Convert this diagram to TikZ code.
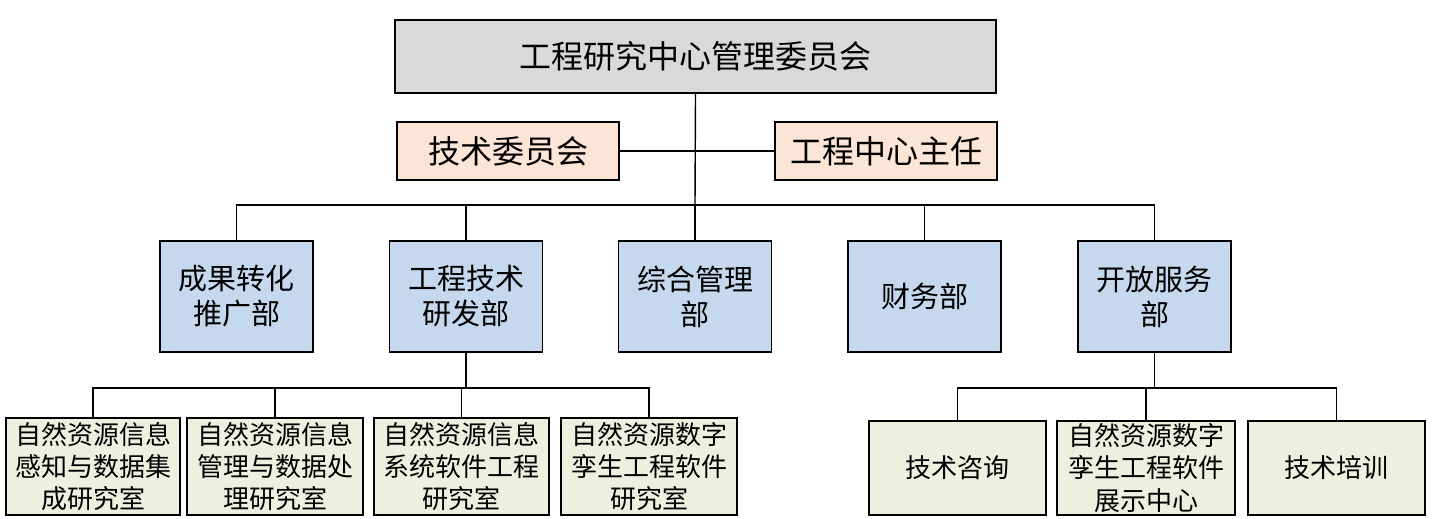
\documentclass[tikz,border=0pt]{standalone}
\usepackage{fontspec}
\setmainfont{Noto Sans CJK SC}
\definecolor{topgray}{HTML}{D9D9D9}
\definecolor{peach}{HTML}{FBE5D6}
\definecolor{deptblue}{HTML}{C6D8EE}
\definecolor{labgreen}{HTML}{EBF1DE}
\begin{document}
\begin{tikzpicture}[x=1pt,y=-1pt,
  box/.style={draw=black, line width=1.5pt, align=center, inner sep=0pt, text=black},
  topbox/.style={box, fill=topgray, minimum width=601pt, minimum height=73pt, font=\fontsize{32}{38}\selectfont},
  peachbox/.style={box, fill=peach, minimum width=222pt, minimum height=58pt, font=\fontsize{32}{38}\selectfont},
  dept/.style={box, fill=deptblue, minimum width=153pt, minimum height=111pt, font=\fontsize{29}{35}\selectfont},
  lab/.style={box, fill=labgreen, minimum height=97pt, font=\fontsize{26}{32}\selectfont},
  svc/.style={box, fill=labgreen, minimum height=94pt, font=\fontsize{26}{32.5}\selectfont},
  conn/.style={draw=black, line width=1.4pt}]
\useasboundingbox (0,0) rectangle (1435,519);
% top
\node[topbox] (top) at (695.5,56.5) {工程研究中心管理委员会};
\node[peachbox] (tc) at (508,151) {技术委员会};
\node[peachbox] (dir) at (886,151) {工程中心主任};
% departments
\node[dept] (d1) at (236.5,296.5) {成果转化\\推广部};
\node[dept] (d2) at (466,296.5) {工程技术\\研发部};
\node[dept] (d3) at (695,296.5) {综合管理\\部};
\node[dept] (d4) at (924.5,296.5) {财务部};
\node[dept] (d5) at (1154.5,296.5) {开放服务\\部};
% labs
\node[lab, minimum width=174pt] (l1) at (93,466.5) {自然资源信息\\感知与数据集\\成研究室};
\node[lab, minimum width=176pt] (l2) at (275,466.5) {自然资源信息\\管理与数据处\\理研究室};
\node[lab, minimum width=175pt] (l3) at (461.5,466.5) {自然资源信息\\系统软件工程\\研究室};
\node[lab, minimum width=176pt] (l4) at (649,466.5) {自然资源数字\\孪生工程软件\\研究室};
% services
\node[svc, minimum width=177pt] (s1) at (957.5,468) {技术咨询};
\node[svc, minimum width=178pt] (s2) at (1146,468) {自然资源数字\\孪生工程软件\\展示中心};
\node[svc, minimum width=177pt] (s3) at (1336.5,468) {技术培训};
% connectors
\coordinate (busA) at (695,205);
\coordinate (busB) at (466,388);
\coordinate (busC) at (1154.5,388);
\draw[conn] (tc.east) -- (dir.west);
\draw[conn] (top.south) -- (busA);
\foreach \n in {d1,d2,d3,d4,d5} \draw[conn] (busA) -| (\n.north);
\draw[conn] (d2.south) -- (busB);
\foreach \n in {l1,l2,l3,l4} \draw[conn] (busB) -| (\n.north);
\draw[conn] (d5.south) -- (busC);
\foreach \n in {s1,s2,s3} \draw[conn] (busC) -| (\n.north);
\end{tikzpicture}
\end{document}
